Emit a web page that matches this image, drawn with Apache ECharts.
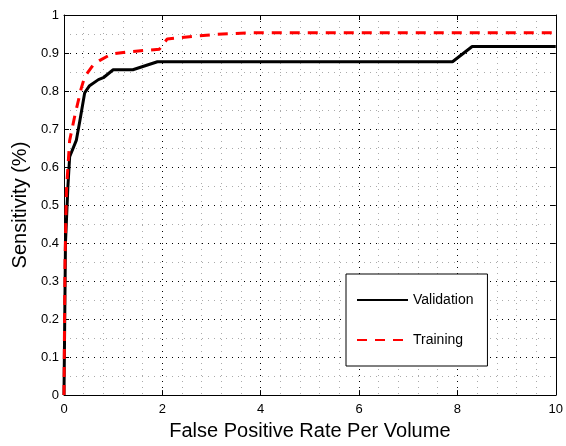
<!DOCTYPE html>
<html>
<head>
<meta charset="utf-8">
<script src="https://cdn.jsdelivr.net/npm/echarts@6/dist/echarts.min.js"></script>
<style>
  body { margin: 0; background: #fff; }
  #main { width: 566px; height: 446px; }
</style>
</head>
<body>
<div id="main"></div>
<script>
// validation curve (black solid)
const valX = [0, 0.03, 0.08, 0.115, 0.25, 0.32, 0.42, 0.52, 0.7, 0.8, 1.0, 1.4, 1.9, 7.9, 8.3, 10]
const valY = [0, 0.4, 0.55, 0.627, 0.67, 0.72, 0.795, 0.814, 0.83, 0.835, 0.856, 0.856, 0.877, 0.877, 0.917, 0.917]
// training curve (red dashed)
const trainX = [0, 0.02, 0.05, 0.115, 0.22, 0.35, 0.42, 0.6, 0.72, 0.96, 1.3, 1.94, 2.1, 2.55, 3.09, 3.8, 10]
const trainY = [0, 0.35, 0.54, 0.67, 0.735, 0.807, 0.837, 0.87, 0.88, 0.897, 0.903, 0.91, 0.937, 0.943, 0.949, 0.953, 0.953]
const seriesNames = ['Validation', 'Training']

const FONT = "'Liberation Sans', Arial, Helvetica, sans-serif"

function pairs (xs, ys) {
  let out = []
  for (let i = 0; i < xs.length; i++) {
    out.push([xs[i], ys[i]])
  }
  return out
}

const chart = echarts.init(document.getElementById('main'))

// major grid dotted black, minor grid dotted gray
const majorGrid = { show: true, lineStyle: { color: '#000', width: 1, type: [1, 5] } }
const minorGrid = { show: true, lineStyle: { color: '#aaa', width: 1, type: [1, 5] } }
const inTick = { show: true, inside: true, length: 5, lineStyle: { color: '#000' } }
const blackLine = { show: true, onZero: false, lineStyle: { color: '#000', width: 1 } }

let option = {
  animation: false,
  grid: { left: 64, top: 15, right: 8, bottom: 42 },
  legend: {
    orient: 'vertical',
    left: 346,
    top: 274,
    padding: [19, 14, 19, 10],
    itemWidth: 51,
    itemHeight: 14,
    itemGap: 26,
    itemStyle: { opacity: 0 },
    backgroundColor: '#fff',
    borderColor: '#000',
    borderWidth: 1,
    borderRadius: 0,
    textStyle: { fontFamily: FONT, fontSize: 14, color: '#000' },
    data: seriesNames
  },
  xAxis: [{
    type: 'value',
    position: 'bottom',
    min: 0,
    max: 10,
    interval: 2,
    axisLine: blackLine,
    axisTick: inTick,
    axisLabel: { color: '#000', fontFamily: FONT, fontSize: 13, margin: 8 },
    splitLine: majorGrid,
    minorTick: { show: false, splitNumber: 5 },
    minorSplitLine: minorGrid,
    name: 'False Positive Rate Per Volume',
    nameLocation: 'middle',
    nameGap: 33,
    nameTextStyle: { color: '#000', fontFamily: FONT, fontSize: 20, verticalAlign: 'middle' }
  }, {
    type: 'value',
    position: 'top',
    min: 0,
    max: 10,
    interval: 2,
    axisLine: blackLine,
    axisTick: inTick,
    axisLabel: { show: false },
    splitLine: { show: false }
  }],
  yAxis: [{
    type: 'value',
    position: 'left',
    min: 0,
    max: 1,
    interval: 0.1,
    axisLine: blackLine,
    axisTick: inTick,
    axisLabel: { color: '#000', fontFamily: FONT, fontSize: 13, margin: 5 },
    splitLine: majorGrid,
    minorTick: { show: false, splitNumber: 2 },
    minorSplitLine: minorGrid,
    name: 'Sensitivity (%)',
    nameLocation: 'middle',
    nameGap: 42,
    nameTextStyle: { color: '#000', fontFamily: FONT, fontSize: 20, verticalAlign: 'middle' }
  }, {
    type: 'value',
    position: 'right',
    min: 0,
    max: 1,
    interval: 0.1,
    axisLine: blackLine,
    axisTick: inTick,
    axisLabel: { show: false },
    splitLine: { show: false }
  }],
  series: [{
    name: seriesNames[0],
    type: 'line',
    symbol: 'none',
    color: '#000',
    lineStyle: { color: '#000', width: 3, type: 'solid' },
    data: pairs(valX, valY)
  }, {
    name: seriesNames[1],
    type: 'line',
    symbol: 'none',
    color: '#ff0000',
    lineStyle: { color: '#ff0000', width: 3, type: [10, 8] },
    data: pairs(trainX, trainY)
  }]
}

chart.setOption(option)
</script>
</body>
</html>
